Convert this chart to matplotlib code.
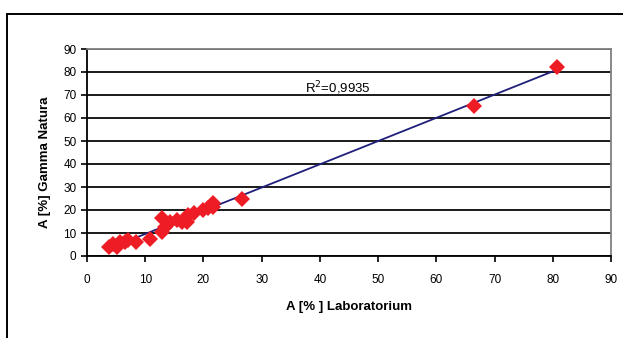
import matplotlib
matplotlib.use("Agg")
import matplotlib.pyplot as plt
import numpy as np
from matplotlib.patches import Rectangle

plt.rcParams['font.family'] = ['Liberation Sans', 'DejaVu Sans']

lab = [3.7, 4.5, 5.1, 5.7, 6.5, 7.1, 8.5, 10.9, 12.8, 12.8, 13.4, 14.3, 15.4, 16.3,
       17.1, 17.4, 18.3, 20.0, 20.8, 21.7, 21.7, 26.7, 66.4, 80.7]
gamma = [4.0, 5.2, 4.0, 6.2, 6.2, 7.0, 6.2, 7.4, 16.4, 10.6, 12.7, 14.9, 15.6, 14.9,
         14.9, 17.8, 18.5, 20.0, 20.7, 22.9, 21.4, 24.6, 65.2, 82.3]
r2_text = "R$^2$=0,9935"
xticks = list(range(0, 100, 10))
yticks = list(range(0, 100, 10))

W, H = 623, 338
fig = plt.figure(figsize=(W / 100, H / 100), dpi=100)
ax = fig.add_axes([87 / W, 1 - 256 / H, (611 - 87) / W, (256 - 49) / H])

# outer frame
fig.patches.append(Rectangle((7 / W, -0.1), 1.2, 1 - 14 / H + 0.1, transform=fig.transFigure,
                             fill=False, edgecolor='black', linewidth=1.4))

ax.set_xlim(0, 90)
ax.set_ylim(0, 90)
ax.set_xticks(xticks)
ax.set_yticks(yticks)
ax.grid(axis='y', color='#1a1a1a', linewidth=1.4)
ax.set_axisbelow(True)

x = np.array(lab)
y = np.array(gamma)
k, b = np.polyfit(x, y, 1)
xs = np.array([x.min(), x.max()])
ax.plot(xs, k * xs + b, color='#1f1f7a', linewidth=1.3, zorder=2)
ax.plot(x, y, linestyle='none', marker='D', markersize=8.5, color='#ee1c25',
        markeredgewidth=0, zorder=3)

ax.text(37.5, 73, r2_text, fontsize=9.5, ha='left', va='center', color='black')

for s in ['top', 'right']:
    ax.spines[s].set_color('#808080')
    ax.spines[s].set_linewidth(1.3)
ax.spines['left'].set_color('black')
ax.spines['bottom'].set_color('black')
ax.spines['left'].set_linewidth(1.3)
ax.spines['bottom'].set_linewidth(1.3)
ax.tick_params(axis='both', direction='out', length=4, width=1.2, labelsize=8.5, colors='black')
ax.tick_params(axis='x', pad=9)

ax.set_xlabel('A [% ] Laboratorium', fontsize=9.5, fontweight='bold', labelpad=11)
ax.set_ylabel('A [%] Gamma Natura', fontsize=9.5, fontweight='bold')
ax.yaxis.set_label_coords(-0.068, 0.455)

fig.savefig('out.png', dpi=100)
